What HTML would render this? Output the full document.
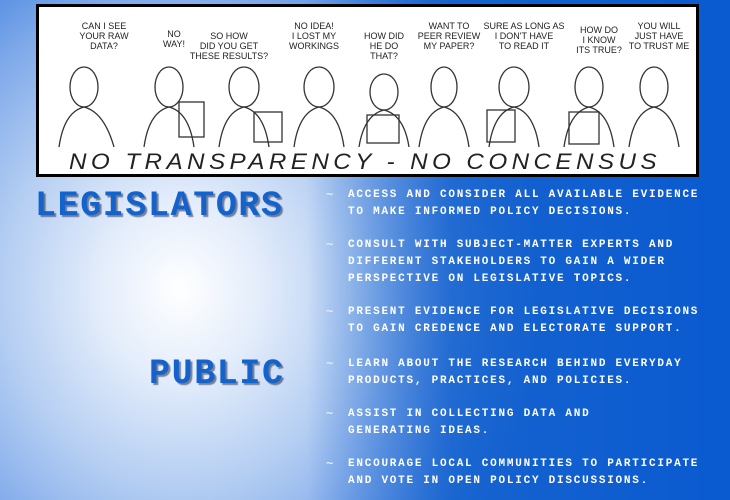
<!DOCTYPE html>
<html><head><meta charset="utf-8"><style>
html,body{margin:0;padding:0}
body{width:730px;height:500px;position:relative;overflow:hidden;
background:radial-gradient(ellipse 360px 400px at 180px 290px,#ffffff 0%,#e4edfb 22%,#b3cdf2 50%,#7fa9ea 75%,#3d7fdc 100%),#0c5ccc;}
#bg2{position:absolute;inset:0;background:linear-gradient(90deg,rgba(12,92,204,0) 0%,rgba(12,92,204,0) 42%,rgba(12,92,204,.8) 62%,#0a5ad0 100%);}
#box{position:absolute;left:36px;top:4px;width:657px;height:167px;border:3px solid #000;background:#fff}
.h{position:absolute;font-family:"Liberation Mono",monospace;font-weight:bold;font-size:35px;letter-spacing:1.6px;color:#1462cc;text-shadow:2px 2px 1px rgba(30,40,70,.55);line-height:1}
.t{position:absolute;left:348px;font-family:"Liberation Mono",monospace;font-weight:bold;font-size:11px;letter-spacing:1.76px;color:#fff;line-height:17px;white-space:pre}
.b{position:absolute;left:326px;font-family:"Liberation Mono",monospace;font-weight:bold;font-size:12px;color:#e8eefc;line-height:17px}
</style></head><body>
<div id="bg2"></div>
<div id="box">
<svg width="657" height="167" viewBox="0 0 657 167" font-family="Liberation Sans, sans-serif" fill="none" stroke="#333" stroke-width="1.3">
<g font-size="9" fill="#222" stroke="none" text-anchor="middle">
<text x="65" y="22">CAN I SEE</text><text x="65" y="32">YOUR RAW</text><text x="65" y="42">DATA?</text>
<text x="135" y="30">NO</text><text x="135" y="40">WAY!</text>
<text x="190" y="32">SO HOW</text><text x="190" y="42">DID YOU GET</text><text x="190" y="52">THESE RESULTS?</text>
<text x="275" y="22">NO IDEA!</text><text x="275" y="32">I LOST MY</text><text x="275" y="42">WORKINGS</text>
<text x="345" y="32">HOW DID</text><text x="345" y="42">HE DO</text><text x="345" y="52">THAT?</text>
<text x="410" y="22">WANT TO</text><text x="410" y="32">PEER REVIEW</text><text x="410" y="42">MY PAPER?</text>
<text x="485" y="22">SURE AS LONG AS</text><text x="485" y="32">I DON'T HAVE</text><text x="485" y="42">TO READ IT</text>
<text x="560" y="26">HOW DO</text><text x="560" y="36">I KNOW</text><text x="560" y="46">ITS TRUE?</text>
<text x="620" y="22">YOU WILL</text><text x="620" y="32">JUST HAVE</text><text x="620" y="42">TO TRUST ME</text>
</g>
<g>
<ellipse cx="45" cy="80" rx="14" ry="20"/><path d="M20 140 Q25 105 45 100 Q65 105 75 140"/>
<ellipse cx="130" cy="80" rx="14" ry="20"/><path d="M105 140 Q110 105 130 100 Q150 105 155 140"/><rect x="140" y="95" width="25" height="35"/>
<ellipse cx="205" cy="80" rx="15" ry="20"/><path d="M180 140 Q185 105 205 100 Q225 105 230 140"/><rect x="215" y="105" width="28" height="30"/>
<ellipse cx="280" cy="80" rx="15" ry="20"/><path d="M255 140 Q260 105 280 100 Q300 105 305 140"/>
<ellipse cx="345" cy="85" rx="14" ry="18"/><path d="M320 140 Q325 108 345 103 Q365 108 370 140"/><rect x="328" y="108" width="32" height="28"/>
<ellipse cx="405" cy="80" rx="13" ry="20"/><path d="M380 140 Q385 105 405 100 Q425 105 430 140"/>
<ellipse cx="475" cy="80" rx="15" ry="20"/><path d="M450 140 Q455 105 475 100 Q495 105 500 140"/><rect x="448" y="103" width="28" height="32"/>
<ellipse cx="550" cy="80" rx="14" ry="20"/><path d="M525 140 Q530 105 550 100 Q570 105 575 140"/><rect x="530" y="105" width="30" height="32"/>
<ellipse cx="615" cy="80" rx="14" ry="20"/><path d="M590 140 Q595 105 615 100 Q635 105 640 140"/>
</g>
<text x="30" y="162" font-size="22" font-style="italic" fill="#222" stroke="none" letter-spacing="4" textLength="592" lengthAdjust="spacingAndGlyphs">NO TRANSPARENCY - NO CONCENSUS</text>
</svg>
</div>
<div class="h" style="left:35px;top:189px">LEGISLATORS</div>
<div class="h" style="left:149px;top:357px">PUBLIC</div>
<div class="b" style="top:187px">~</div>
<div class="t" style="top:187px">ACCESS AND CONSIDER ALL AVAILABLE EVIDENCE
TO MAKE INFORMED POLICY DECISIONS.</div>
<div class="b" style="top:237px">~</div>
<div class="t" style="top:237px">CONSULT WITH SUBJECT-MATTER EXPERTS AND
DIFFERENT STAKEHOLDERS TO GAIN A WIDER
PERSPECTIVE ON LEGISLATIVE TOPICS.</div>
<div class="b" style="top:304px">~</div>
<div class="t" style="top:304px">PRESENT EVIDENCE FOR LEGISLATIVE DECISIONS
TO GAIN CREDENCE AND ELECTORATE SUPPORT.</div>
<div class="b" style="top:356px">~</div>
<div class="t" style="top:356px">LEARN ABOUT THE RESEARCH BEHIND EVERYDAY
PRODUCTS, PRACTICES, AND POLICIES.</div>
<div class="b" style="top:406px">~</div>
<div class="t" style="top:406px">ASSIST IN COLLECTING DATA AND
GENERATING IDEAS.</div>
<div class="b" style="top:456px">~</div>
<div class="t" style="top:456px">ENCOURAGE LOCAL COMMUNITIES TO PARTICIPATE
AND VOTE IN OPEN POLICY DISCUSSIONS.</div>
</body></html>
